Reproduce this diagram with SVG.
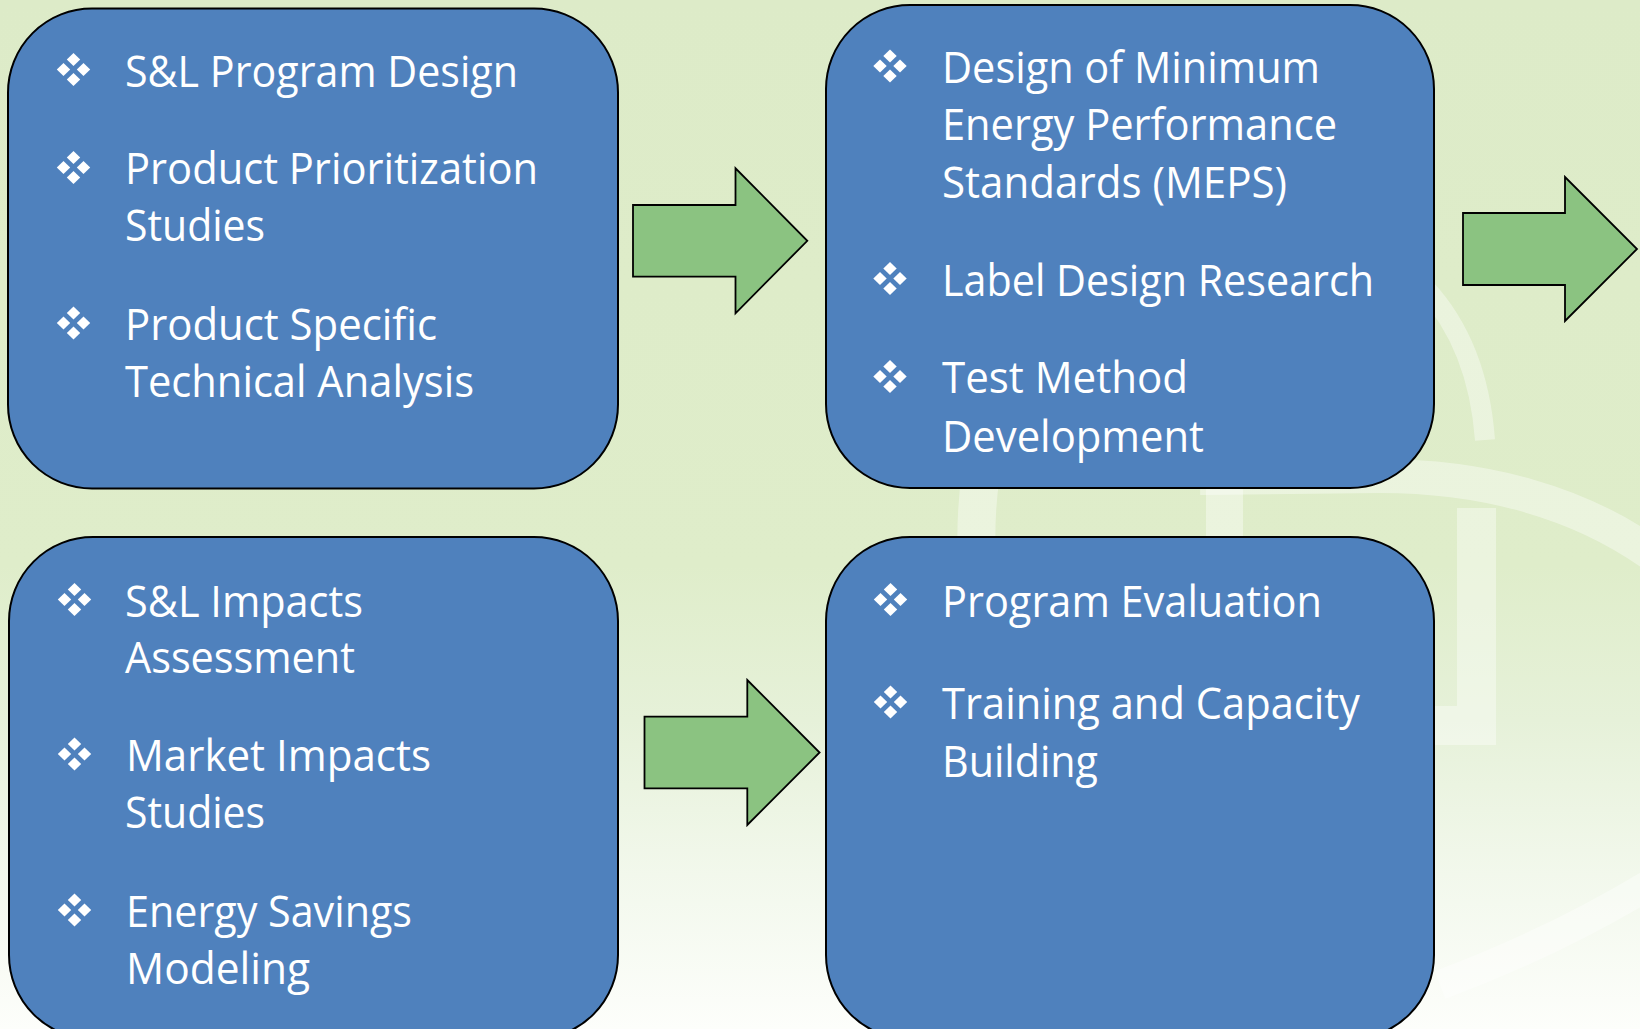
<svg xmlns="http://www.w3.org/2000/svg" xmlns:xlink="http://www.w3.org/1999/xlink" width="1640" height="1029" viewBox="0 0 1640 1029">
  <style>
    .box { fill: #4F81BD; stroke: #000000; stroke-width: 2; }
    .arrow { fill: #8BC381; stroke: #000000; stroke-width: 1.8; stroke-linejoin: miter; }
    .t { font-family: "Open Sans", "Noto Sans", "Liberation Sans", sans-serif; font-size: 43px; fill: #FFFFFF; }
    .wm { fill: none; stroke: #FFFFFF; stroke-opacity: 0.38; }
    .wmf { fill: #FFFFFF; fill-opacity: 0.38; }
  </style>
  <defs>
    <linearGradient id="bg" x1="0" y1="0" x2="0" y2="1029" gradientUnits="userSpaceOnUse">
      <stop offset="0" stop-color="#DDEBC8"/>
      <stop offset="0.55" stop-color="#DFEDCA"/>
      <stop offset="0.7" stop-color="#E6F1D9"/>
      <stop offset="0.85" stop-color="#F2F8EC"/>
      <stop offset="1" stop-color="#FDFEFB"/>
    </linearGradient>
    <g id="bul" fill="#FFFFFF">
      <polygon points="0,-16.5 6.7,-10 0,-3.5 -6.7,-10"/>
      <polygon points="-16.7,0 -10,-6.5 -3.3,0 -10,6.5"/>
      <polygon points="16.7,0 10,-6.5 3.3,0 10,6.5"/>
      <polygon points="0,16.5 6.7,10 0,3.5 -6.7,10"/>
    </g>
  </defs>

  <!-- background -->
  <rect x="0" y="0" width="1640" height="1029" fill="url(#bg)"/>

  <!-- faint watermark -->
  <g id="watermark">
    <path class="wm" stroke-width="20" d="M1425,288 Q1478,345 1485,440"/>
    <path class="wm" stroke-width="34" d="M1200,478 L1380,476 C1480,476 1580,500 1660,560"/>
    <path class="wm" stroke-width="38" d="M988,440 Q972,500 978,580"/>
    <rect class="wmf" x="1206" y="460" width="37" height="100"/>
    <polygon class="wmf" points="1457,508 1496,508 1496,745 1420,745 1420,706 1457,706"/>
    <path class="wm" stroke-width="30" stroke-opacity="0.28" d="M1440,985 Q1560,940 1660,878"/>
  </g>

  <!-- connectors -->
  <g id="connectors">
    <polygon class="arrow" points="633,205 735.5,205 735.5,168.3 807.3,240.8 735.5,313.3 735.5,276.7 633,276.7"/>
    <polygon class="arrow" points="644.5,716.7 747.3,716.7 747.3,680 819.6,752.5 747.3,825 747.3,788.3 644.5,788.3"/>
    <polygon class="arrow" points="1463,213 1565,213 1565,177 1637,249 1565,321 1565,285 1463,285"/>
  </g>

  <!-- node 1 -->
  <g id="node-design">
    <rect class="box" x="8" y="8.5" width="610" height="480" rx="84" ry="84"/>
    <use xlink:href="#bul" x="73.5" y="69.5"/>
    <use xlink:href="#bul" x="73.5" y="167.5"/>
    <use xlink:href="#bul" x="73.5" y="323"/>
    <text class="t" x="125" y="87.3" textLength="393" lengthAdjust="spacingAndGlyphs">S&amp;L Program Design</text>
    <text class="t" x="125" y="184.3" textLength="413" lengthAdjust="spacingAndGlyphs">Product Prioritization</text>
    <text class="t" x="125" y="240.7" textLength="140" lengthAdjust="spacingAndGlyphs">Studies</text>
    <text class="t" x="125" y="340" textLength="312" lengthAdjust="spacingAndGlyphs">Product Specific</text>
    <text class="t" x="125" y="397.3" textLength="349" lengthAdjust="spacingAndGlyphs">Technical Analysis</text>
  </g>

  <!-- node 2 -->
  <g id="node-standards">
    <rect class="box" x="826" y="5" width="608" height="483" rx="84" ry="84"/>
    <use xlink:href="#bul" x="890" y="66"/>
    <use xlink:href="#bul" x="890" y="278.5"/>
    <use xlink:href="#bul" x="890" y="376.5"/>
    <text class="t" x="942" y="82.7" textLength="378" lengthAdjust="spacingAndGlyphs">Design of Minimum</text>
    <text class="t" x="942" y="140" textLength="395" lengthAdjust="spacingAndGlyphs">Energy Performance</text>
    <text class="t" x="942" y="197.7" textLength="345" lengthAdjust="spacingAndGlyphs">Standards (MEPS)</text>
    <text class="t" x="942" y="295.7" textLength="432" lengthAdjust="spacingAndGlyphs">Label Design Research</text>
    <text class="t" x="942" y="393.3" textLength="246" lengthAdjust="spacingAndGlyphs">Test Method</text>
    <text class="t" x="942" y="451.7" textLength="262" lengthAdjust="spacingAndGlyphs">Development</text>
  </g>

  <!-- node 3 -->
  <g id="node-impacts">
    <rect class="box" x="9" y="537" width="609" height="502" rx="84" ry="84"/>
    <use xlink:href="#bul" x="74.5" y="599.5"/>
    <use xlink:href="#bul" x="74.5" y="754"/>
    <use xlink:href="#bul" x="74.5" y="910"/>
    <text class="t" x="125" y="616.7" textLength="238" lengthAdjust="spacingAndGlyphs">S&amp;L Impacts</text>
    <text class="t" x="125" y="673.3" textLength="230" lengthAdjust="spacingAndGlyphs">Assessment</text>
    <text class="t" x="126" y="770.7" textLength="305" lengthAdjust="spacingAndGlyphs">Market Impacts</text>
    <text class="t" x="125" y="828.3" textLength="140" lengthAdjust="spacingAndGlyphs">Studies</text>
    <text class="t" x="126" y="926.7" textLength="286" lengthAdjust="spacingAndGlyphs">Energy Savings</text>
    <text class="t" x="126" y="984" textLength="184" lengthAdjust="spacingAndGlyphs">Modeling</text>
  </g>

  <!-- node 4 -->
  <g id="node-evaluation">
    <rect class="box" x="826" y="537" width="608" height="502" rx="84" ry="84"/>
    <use xlink:href="#bul" x="890.5" y="599.5"/>
    <use xlink:href="#bul" x="890.5" y="702"/>
    <text class="t" x="942" y="616.7" textLength="380" lengthAdjust="spacingAndGlyphs">Program Evaluation</text>
    <text class="t" x="942" y="719.3" textLength="418" lengthAdjust="spacingAndGlyphs">Training and Capacity</text>
    <text class="t" x="942" y="776.7" textLength="156" lengthAdjust="spacingAndGlyphs">Building</text>
  </g>
</svg>
